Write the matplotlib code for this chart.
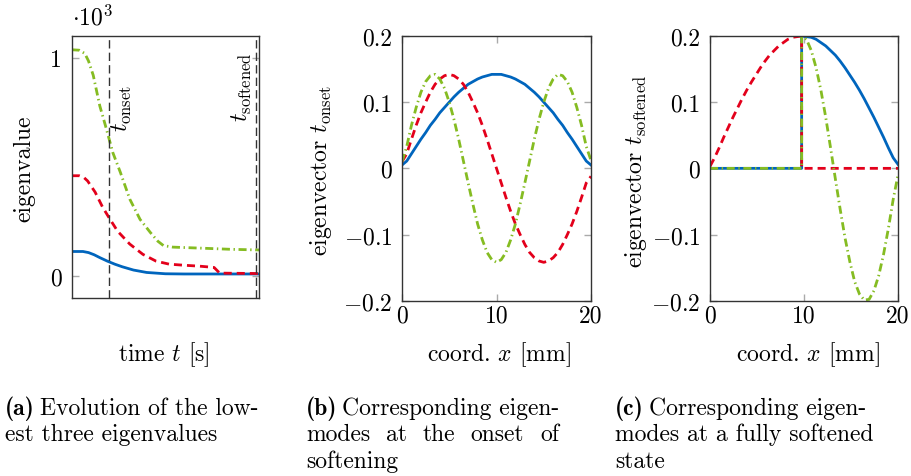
import numpy as np
import matplotlib
matplotlib.use("Agg")
import matplotlib.pyplot as plt

plt.rcParams.update({
    'font.family': 'serif',
    'font.serif': ['cmr10'],
    'mathtext.fontset': 'cm',
    'axes.unicode_minus': False,
    'axes.formatter.use_mathtext': True,
    'font.size': 17,
})

BLUE = '#0065BD'
RED = '#E3001B'
GREEN = '#85BC22'

# (a) lowest three eigenvalues over time (x10^3), time axis unitless
t_blue = [0, 6, 9, 12, 15, 19, 23, 27, 33, 40, 50, 60, 100]
ev_blue = [0.113, 0.113, 0.108, 0.098, 0.085, 0.069, 0.055, 0.043, 0.028, 0.017, 0.011, 0.010, 0.010]
t_red = [0, 4, 6.5, 8.5, 12.5, 16.5, 20.5, 24.5, 31, 38, 45, 52, 60, 68, 76, 79, 100]
ev_red = [0.46, 0.46, 0.452, 0.436, 0.385, 0.316, 0.26, 0.206, 0.147, 0.10, 0.069, 0.055, 0.05, 0.046, 0.04, 0.014, 0.012]
t_green = [0, 4, 7, 9, 11.5, 15, 18, 22, 26, 31, 36.5, 42, 46, 49, 54, 70, 85, 100]
ev_green = [1.037, 1.035, 1.02, 0.985, 0.92, 0.78, 0.69, 0.565, 0.475, 0.353, 0.26, 0.20, 0.16, 0.14, 0.133, 0.128, 0.123, 0.12]
t_onset = 19.7
t_softened = 98.4

# (b) eigenmodes at onset, x in mm
x_b = np.linspace(0, 20, 41)
mode1_b = [0.005, 0.011, 0.022, 0.033, 0.044, 0.054, 0.065, 0.074, 0.084, 0.092,
           0.100, 0.108, 0.115, 0.121, 0.127, 0.131, 0.135, 0.138, 0.140, 0.142,
           0.142,
           0.142, 0.140, 0.138, 0.135, 0.131, 0.127, 0.121, 0.115, 0.108, 0.100,
           0.092, 0.084, 0.074, 0.065, 0.054, 0.044, 0.033, 0.022, 0.011, 0.005]
mode2_b = [0.010, 0.022, 0.044, 0.065, 0.084, 0.100, 0.115, 0.127, 0.135, 0.140,
           0.142, 0.140, 0.135, 0.127, 0.115, 0.100, 0.084, 0.065, 0.044, 0.022,
           0.000,
           -0.022, -0.044, -0.065, -0.084, -0.100, -0.115, -0.127, -0.135, -0.140, -0.142,
           -0.140, -0.135, -0.127, -0.115, -0.100, -0.084, -0.065, -0.044, -0.022, -0.012]
mode3_b = [0.010, 0.033, 0.065, 0.092, 0.115, 0.131, 0.140, 0.142, 0.135, 0.121,
           0.100, 0.074, 0.044, 0.011, -0.022, -0.054, -0.084, -0.108, -0.127, -0.138,
           -0.142,
           -0.138, -0.127, -0.108, -0.084, -0.054, -0.022, 0.011, 0.044, 0.074, 0.100,
           0.121, 0.135, 0.142, 0.140, 0.131, 0.115, 0.092, 0.065, 0.033, 0.012]

# (c) eigenmodes in softened state; jump at the softened element
x_c = np.concatenate([np.linspace(0, 9.75, 21), np.linspace(9.75, 20, 21)])
mode1_c = [0.0] * 21 + [0.200, 0.199, 0.198, 0.195, 0.190, 0.185, 0.178, 0.171, 0.162, 0.152,
                        0.141, 0.130, 0.118, 0.105, 0.091, 0.077, 0.062, 0.047, 0.031, 0.016, 0.006]
mode2_c = [0.003, 0.016, 0.031, 0.047, 0.062, 0.077, 0.091, 0.105, 0.118, 0.130,
           0.141, 0.152, 0.162, 0.171, 0.178, 0.185, 0.190, 0.195, 0.198, 0.199, 0.200] + [0.0] * 21
mode3_c = [0.0] * 21 + [0.200, 0.195, 0.178, 0.152, 0.118, 0.077, 0.031, -0.016, -0.062, -0.105,
                        -0.141, -0.171, -0.190, -0.199, -0.198, -0.185, -0.162, -0.130, -0.091, -0.047, -0.010]

ytick_b = [-0.2, -0.1, 0, 0.1, 0.2]
ytick_b_lbl = ['$-0.2$', '$-0.1$', '0', '0.1', '0.2']
xtick_bc = [0, 10, 20]

W, H = 911, 477
fig = plt.figure(figsize=(W / 100, H / 100), dpi=100)

def px_axes(l, r, t, b):
    return fig.add_axes([l / W, 1 - b / H, (r - l) / W, (b - t) / H])

ax_a = px_axes(71.7, 259, 37, 299)
ax_b = px_axes(402, 591, 37, 301.7)
ax_c = px_axes(710, 898, 37, 301.7)

LW = 2.0
red_ls = (0, (2.9, 1.8))
green_ls = (0, (2.9, 1.3, 0.5, 1.3))

def style(ax):
    for s in ax.spines.values():
        s.set_color('#333333')
        s.set_linewidth(1.0)
    ax.tick_params(direction='in', length=5, width=1, color='#aaaaaa',
                   top=True, right=True, labelsize=17, pad=3)
    ax.tick_params(axis='y', pad=7)

# (a)
ax_a.plot(t_blue, ev_blue, color=BLUE, lw=LW)
ax_a.plot(t_red, ev_red, color=RED, lw=LW, ls=red_ls)
ax_a.plot(t_green, ev_green, color=GREEN, lw=LW, ls=green_ls)
for tv in (t_onset, t_softened):
    ax_a.axvline(tv, color='#333333', lw=1.0, ls=(0, (6, 3)))
ax_a.text(t_onset + 0.7, 0.665, r'$t_\mathrm{onset}$', rotation=90, ha='left', va='bottom', fontsize=17)
ax_a.text(t_softened - 1.0, 0.71, r'$t_\mathrm{softened}$', rotation=90, ha='right', va='bottom', fontsize=17)
ax_a.set_xlim(0, 100)
ax_a.set_ylim(-0.1, 1.1)
ax_a.set_xticks([])
ax_a.set_yticks([0, 1])
ax_a.set_yticklabels(['0', '1'])
style(ax_a)

# (b)
ax_b.plot(x_b, mode1_b, color=BLUE, lw=LW)
ax_b.plot(x_b, mode2_b, color=RED, lw=LW, ls=red_ls)
ax_b.plot(x_b, mode3_b, color=GREEN, lw=LW, ls=green_ls)

# (c)
ax_c.plot(x_c, mode1_c, color=BLUE, lw=LW)
ax_c.plot(x_c, mode2_c, color=RED, lw=LW, ls=red_ls)
ax_c.plot(x_c, mode3_c, color=GREEN, lw=LW, ls=green_ls)

for ax in (ax_b, ax_c):
    ax.set_xlim(0, 20)
    ax.set_ylim(-0.2, 0.2)
    ax.set_xticks(xtick_bc)
    ax.set_xticklabels([str(v) for v in xtick_bc])
    ax.set_yticks(ytick_b)
    ax.set_yticklabels(ytick_b_lbl)
    style(ax)

def ftext(x, y, s, **kw):
    return fig.text(x / W, 1 - y / H, s, **kw)

ftext(72, 25, r'$\cdot 10^3$', ha='left', va='baseline', fontsize=17)
ftext(24, 169, 'eigenvalue', rotation=90, ha='center', va='center')
ftext(321, 170, r'eigenvector $t_\mathrm{onset}$', rotation=90, ha='center', va='center')
ftext(636, 171, r'eigenvector $t_\mathrm{softened}$', rotation=90, ha='center', va='center')
ftext(164, 355, r'time $t$ [s]', ha='center', va='center')
ftext(499, 355, r'coord. $x$ [mm]', ha='center', va='center')
ftext(808, 355, r'coord. $x$ [mm]', ha='center', va='center')

rend = fig.canvas.get_renderer()

# sub captions: bold tag followed by roman text
y1, y2, y3 = 415, 441.5, 468

def caption_first(x, tag, rest):
    bt = ftext(x, y1, tag, va='baseline', family='cmb10')
    wb = bt.get_window_extent(rend).width
    ftext(x + wb + 5, y1, rest, va='baseline')

caption_first(5, '(a)', 'Evolution of the low-')
ftext(5, y2, 'est three eigenvalues', va='baseline')
caption_first(306, '(b)', 'Corresponding eigen-')
ftext(306, y3, 'softening', va='baseline')
caption_first(615, '(c)', 'Corresponding eigen-')
ftext(615, y2, 'modes at a fully softened', va='baseline')
ftext(615, y3, 'state', va='baseline')

# justified line in caption (b)
words = ['modes', 'at', 'the', 'onset', 'of']
texts = [ftext(0, y2, w, va='baseline') for w in words]
widths = [t.get_window_extent(rend).width for t in texts]
x0, x1 = 306, 559
gap = (x1 - x0 - sum(widths)) / (len(words) - 1)
xpos = x0
for t, w in zip(texts, widths):
    t.set_x(xpos / W)
    xpos += w + gap

fig.savefig('out.png', dpi=100)
